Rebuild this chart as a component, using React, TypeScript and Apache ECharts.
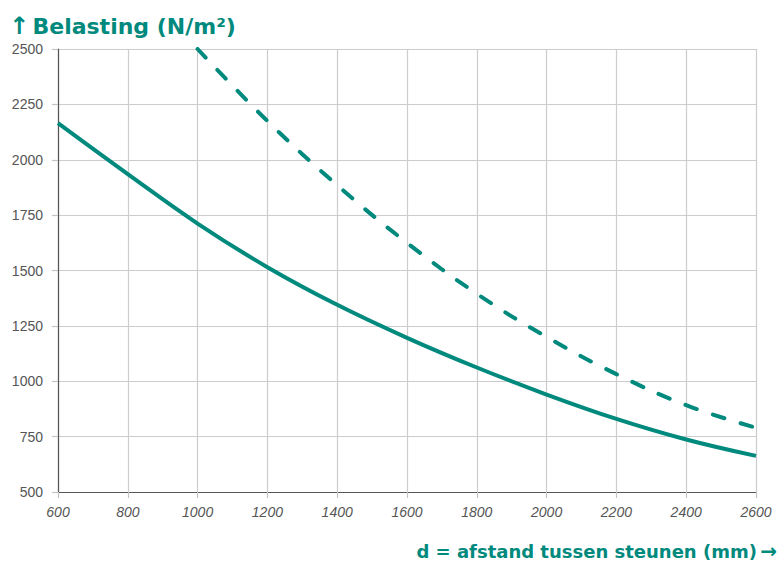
import React, { useEffect, useRef } from "react";
import * as echarts from "echarts";

const xTicks = [600, 800, 1000, 1200, 1400, 1600, 1800, 2000, 2200, 2400, 2600];
const solidX = [600, 800, 1000, 1200, 1400, 1600, 1800, 2000, 2200, 2400, 2600];
const solidY = [2165, 1935, 1712, 1515, 1345, 1196, 1062, 940, 830, 737, 663];
const dashedX = [1000, 1200, 1400, 1600, 1800, 2000, 2200, 2400, 2600];
const dashedY = [2500, 2175, 1885, 1625, 1395, 1200, 1032, 892, 790];
const yTitleText = "Belasting (N/m²)";
const xTitleText = "d = afstand tussen steunen (mm)";

const TEAL = "#00897d";

export default function App() {
  const ref = useRef<HTMLDivElement>(null);
  useEffect(() => {
    const chart = echarts.init(ref.current!, null, { renderer: "svg" });
    chart.setOption({
      animation: false,
      grid: { left: 58, right: 25, top: 49, bottom: 70, containLabel: false },
      xAxis: {
        type: "value",
        min: xTicks[0],
        max: xTicks[xTicks.length - 1],
        interval: 200,
        axisLine: { show: true, lineStyle: { color: "#555", width: 1.2 } },
        axisTick: { show: true, length: 6, lineStyle: { color: "#c4c4c4", width: 1.2 } },
        splitLine: { show: true, lineStyle: { color: "#cccccc", width: 1.2 } },
        axisLabel: {
          margin: 13,
          fontSize: 14,
          fontStyle: "italic",
          color: "#555",
          fontFamily: "Liberation Sans",
          formatter: (v: number) => String(v),
        },
      },
      yAxis: {
        type: "value",
        min: 500,
        max: 2500,
        interval: 250,
        axisLine: { show: true, lineStyle: { color: "#555", width: 1.2 } },
        axisTick: { show: true, length: 6, lineStyle: { color: "#c4c4c4", width: 1.2 } },
        splitLine: { show: true, lineStyle: { color: "#cccccc", width: 1.2 } },
        axisLabel: {
          margin: 15,
          fontSize: 14,
          color: "#555",
          fontFamily: "Liberation Sans",
          formatter: (v: number) => String(v),
        },
      },
      graphic: [
        {
          type: "text",
          left: 9,
          top: 14,
          style: {
            text: "{a|↑} {t|" + yTitleText + "}",
            rich: {
              a: { fill: TEAL, font: "bold 24px 'DejaVu Sans'", lineHeight: 24 },
              t: { fill: TEAL, font: "bold 22px 'DejaVu Sans'", lineHeight: 24 },
            },
          },
        },
        {
          type: "text",
          right: 4,
          top: 541,
          style: {
            text: "{t|" + xTitleText + "} {a|→}",
            rich: {
              a: { fill: TEAL, font: "bold 20px 'DejaVu Sans'", lineHeight: 20 },
              t: { fill: TEAL, font: "bold 18px 'DejaVu Sans'", lineHeight: 20 },
            },
          },
        },
      ],
      series: [
        {
          type: "line",
          data: solidX.map((x, i) => [x, solidY[i]]),
          smooth: 0.4,
          showSymbol: false,
          lineStyle: { color: TEAL, width: 4 },
        },
        {
          type: "line",
          data: dashedX.map((x, i) => [x, dashedY[i]]),
          smooth: 0.4,
          showSymbol: false,
          lineStyle: { color: TEAL, width: 4, type: [12, 17], cap: "round" },
        },
      ],
    });
    return () => chart.dispose();
  }, []);
  return <div ref={ref} style={{ width: 781, height: 562, position: "absolute", left: 0, top: 0 }} />;
}
